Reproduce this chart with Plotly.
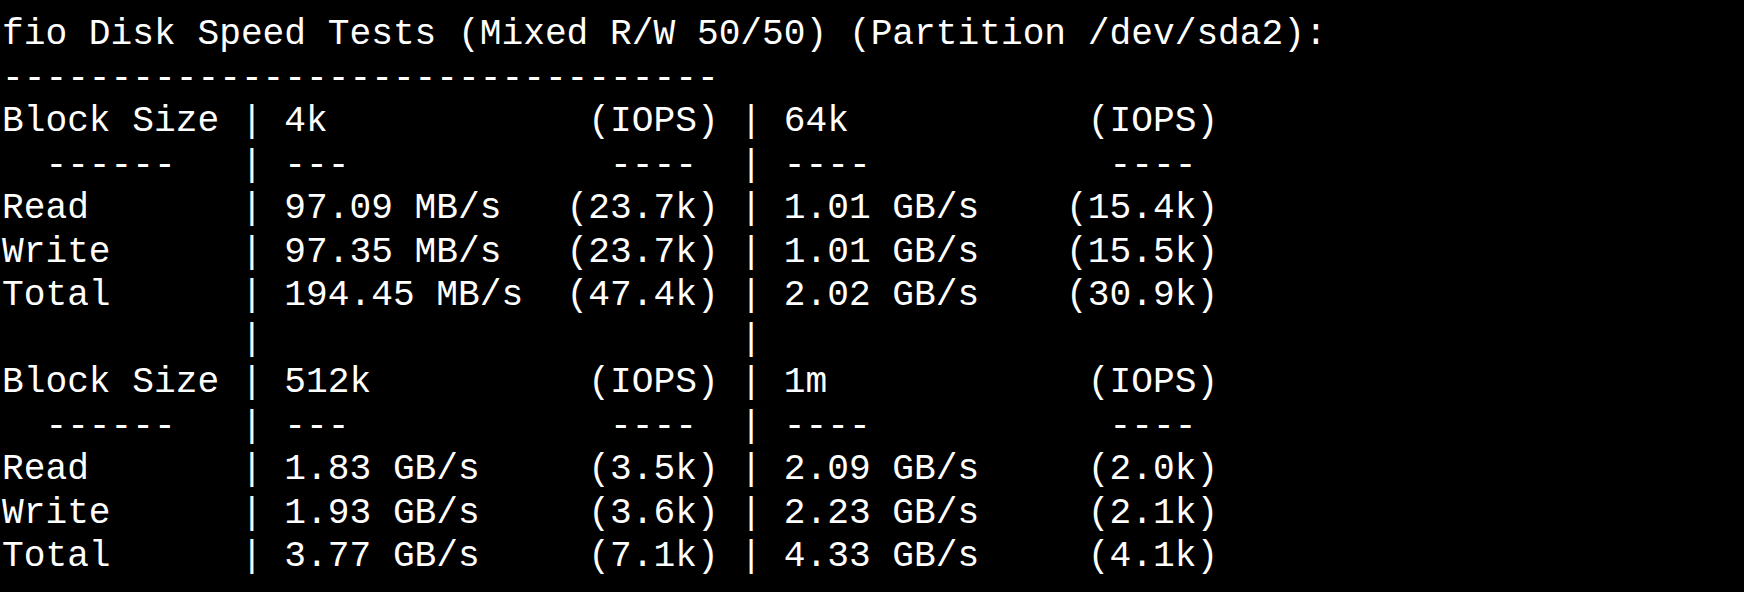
import plotly.graph_objects as go

# fio results as printed by the benchmark script
title = "fio Disk Speed Tests (Mixed R/W 50/50) (Partition /dev/sda2):"
blockSizes = ["4k", "64k", "512k", "1m"]
rowNames = ["Read", "Write", "Total"]
speeds = [
    ["97.09 MB/s", "97.35 MB/s", "194.45 MB/s"],
    ["1.01 GB/s", "1.01 GB/s", "2.02 GB/s"],
    ["1.83 GB/s", "1.93 GB/s", "3.77 GB/s"],
    ["2.09 GB/s", "2.23 GB/s", "4.33 GB/s"],
]
iops = [
    ["23.7k", "23.7k", "47.4k"],
    ["15.4k", "15.5k", "30.9k"],
    ["3.5k", "3.6k", "7.1k"],
    ["2.0k", "2.1k", "4.1k"],
]


def row(a, b, c, d, e):
    return "%-10s | %-11s %8s | %-11s %8s" % (a, b, c, d, e)


lines = [title, "-" * 33]
for pair in [(0, 1), (2, 3)]:
    if pair[0] > 0:
        lines.append("           |                      |")
    i, j = pair
    lines.append(row("Block Size", blockSizes[i], "(IOPS)", blockSizes[j], "(IOPS)"))
    lines.append(row("  ------", "---", "---- ", "----", "---- "))
    for k, name in enumerate(rowNames):
        lines.append(row(name, speeds[i][k], "(" + iops[i][k] + ")",
                         speeds[j][k], "(" + iops[j][k] + ")"))

lines = [l.rstrip().replace(" ", "\u00a0") for l in lines]

charW = 21.75
lineH = 43.5

fig = go.Figure()
fig.add_trace(go.Scatter(
    x=[0] * len(lines),
    y=list(range(len(lines))),
    mode="text",
    text=lines,
    textposition="middle right",
    textfont=dict(family="Liberation Mono", size=36.2, color="#ffffff"),
    hoverinfo="skip",
    showlegend=False,
))

fig.update_layout(
    width=1744,
    height=592,
    margin=dict(l=0, r=0, t=0, b=0),
    paper_bgcolor="#000000",
    plot_bgcolor="#000000",
    xaxis=dict(range=[-2 / charW, 1742 / charW], visible=False, fixedrange=True),
    yaxis=dict(range=[(592 - 35) / lineH, -35 / lineH], visible=False, fixedrange=True),
)

fig.write_html(
    "out.html",
    config={"displayModeBar": False},
    post_script="document.body.style.margin='0';document.body.style.background='#000';",
)
